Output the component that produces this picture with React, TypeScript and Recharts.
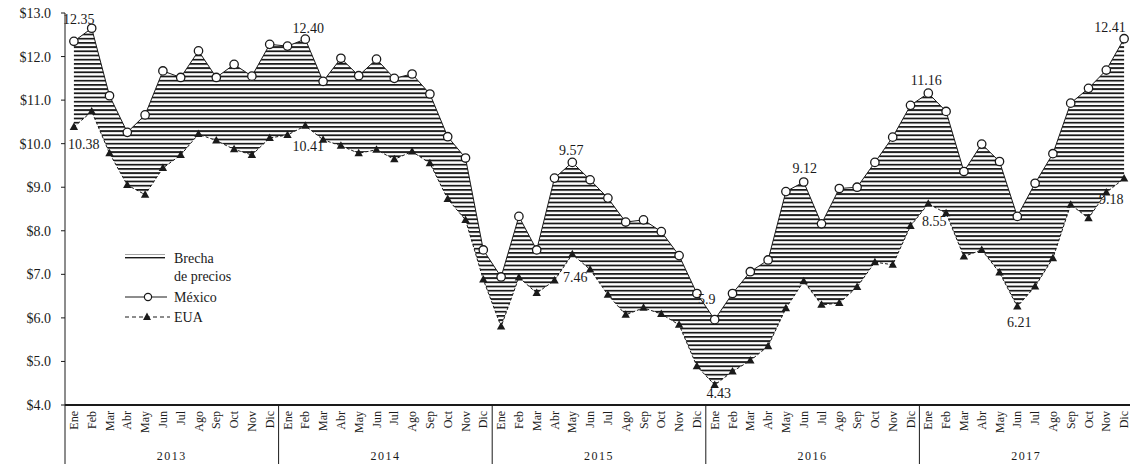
import React from "react";
import { ComposedChart, Area, Line, XAxis, YAxis, LabelList } from "recharts";

const months = ["Ene", "Feb", "Mar", "Abr", "May", "Jun", "Jul", "Ago", "Sep", "Oct", "Nov", "Dic"];
const years = ["2013", "2014", "2015", "2016", "2017"];

// precio mensual, ene 2013 - dic 2017
const mexico = [
  12.35, 12.65, 11.1, 10.26, 10.66, 11.67, 11.52, 12.13, 11.52, 11.82, 11.55, 12.28,
  12.24, 12.4, 11.43, 11.96, 11.56, 11.94, 11.5, 11.6, 11.14, 10.16, 9.67, 7.56,
  6.94, 8.33, 7.56, 9.21, 9.57, 9.17, 8.75, 8.2, 8.25, 7.98, 7.43, 6.56,
  5.96, 6.56, 7.06, 7.33, 8.9, 9.12, 8.16, 8.97, 9.0, 9.57, 10.15, 10.88,
  11.16, 10.74, 9.36, 9.99, 9.59, 8.33, 9.09, 9.77, 10.93, 11.27, 11.69, 12.41,
];
const eua = [
  10.38, 10.74, 9.78, 9.05, 8.83, 9.44, 9.74, 10.22, 10.07, 9.87, 9.74, 10.13,
  10.2, 10.41, 10.09, 9.95, 9.78, 9.86, 9.64, 9.82, 9.55, 8.73, 8.25, 6.88,
  5.8, 6.93, 6.57, 6.86, 7.46, 7.11, 6.53, 6.07, 6.23, 6.09, 5.84, 4.89,
  4.46, 4.77, 5.02, 5.35, 6.22, 6.84, 6.3, 6.34, 6.71, 7.28, 7.22, 8.11,
  8.62, 8.4, 7.41, 7.56, 7.04, 6.26, 6.72, 7.37, 8.6, 8.29, 8.88, 9.2,
];
const yTicks = [4, 5, 6, 7, 8, 9, 10, 11, 12, 13];

const mexicoNotes = [
  { i: 0, text: "12.35" },
  { i: 13, text: "12.40" },
  { i: 28, text: "9.57" },
  { i: 36, text: "5.9" },
  { i: 41, text: "9.12" },
  { i: 48, text: "11.16" },
  { i: 59, text: "12.41" },
];
const euaNotes = [
  { i: 0, text: "10.38" },
  { i: 13, text: "10.41" },
  { i: 28, text: "7.46" },
  { i: 36, text: "4.43" },
  { i: 48, text: "8.55" },
  { i: 53, text: "6.21" },
  { i: 59, text: "9.18" },
];

// where each note sits relative to its point: [dx, dy, anchor]
const mexicoPlace: Record<number, [number, number, string]> = {
  0: [-11, -17, "start"],
  13: [3, -6, "middle"],
  28: [-1, -7, "middle"],
  36: [-8, -16, "middle"],
  41: [1, -9, "middle"],
  48: [-2, -8, "middle"],
  59: [-14, -7, "middle"],
};
const euaPlace: Record<number, [number, number, string]> = {
  0: [-6, 22, "start"],
  13: [3, 25, "middle"],
  28: [3, 28, "middle"],
  36: [4, 13, "middle"],
  48: [6, 22, "middle"],
  53: [2, 20, "middle"],
  59: [-25, 25, "start"],
};

const data = mexico.map((mx, i) => ({
  t: i + 0.5,
  mx,
  us: eua[i],
  gap: [eua[i], mx],
}));

const monthTicks = mexico.map((_, i) => i + 0.5);
const yearTicks = [0, 6, 12, 18, 24, 30, 36, 42, 48, 54, 60];

const serif = "'Liberation Serif', 'DejaVu Serif', serif";
const ink = "#1a1a1a";

function MonthTick(props: any) {
  const { x, y, payload } = props;
  const label = months[Math.floor(payload.value) % 12];
  const ty = y + 6;
  return (
    <text
      x={x}
      y={ty}
      transform={`rotate(-90 ${x} ${ty})`}
      textAnchor="end"
      dominantBaseline="central"
      fontSize={12}
      fontFamily={serif}
      fill={ink}
    >
      {label}
    </text>
  );
}

function YearTick(props: any) {
  const { x, y, payload } = props;
  const v = payload.value;
  if (v % 12 === 0) {
    return <line x1={x} x2={x} y1={y - 42} y2={y + 17} stroke={ink} strokeWidth={1} />;
  }
  return (
    <text x={x} y={y + 13} textAnchor="middle" fontSize={12} fontFamily={serif} fill={ink} letterSpacing={1.5}>
      {years[(v - 6) / 12]}
    </text>
  );
}

function makeNote(notes: { i: number; text: string }[], place: Record<number, [number, number, string]>) {
  return (props: any) => {
    const { index } = props;
    const note = notes.find((n) => n.i === index);
    if (!note) return null;
    const px = props.x ?? props.viewBox?.x;
    const py = props.y ?? props.viewBox?.y;
    const [dx, dy, anchor] = place[index];
    return (
      <text x={px + dx} y={py + dy} textAnchor={anchor} fontSize={14} fontFamily={serif} fill={ink}>
        {note.text}
      </text>
    );
  };
}

function CircleDot(props: any) {
  const { cx, cy, index } = props;
  return <circle key={index} cx={cx} cy={cy} r={4.2} fill="#fff" stroke={ink} strokeWidth={1.3} />;
}

function TriangleDot(props: any) {
  const { cx, cy, index } = props;
  return <path key={index} d={`M${cx},${cy - 4.5} L${cx + 4.2},${cy + 3} L${cx - 4.2},${cy + 3} Z`} fill={ink} />;
}

function Legend() {
  return (
    <svg width={260} height={80} style={{ position: "absolute", left: 115, top: 245 }}>
      <defs>
        <pattern id="hatchLegend" width={6} height={4} patternUnits="userSpaceOnUse">
          <rect x={0} y={0} width={6} height={1.4} fill={ink} />
        </pattern>
      </defs>
      <rect x={10} y={9} width={40} height={6} fill="url(#hatchLegend)" />
      <text x={59} y={18} fontSize={14} fontFamily={serif} fill={ink}>Brecha</text>
      <text x={59} y={36} fontSize={14} fontFamily={serif} fill={ink}>de precios</text>
      <line x1={10} x2={52} y1={52} y2={52} stroke={ink} strokeWidth={1} />
      <circle cx={33} cy={52} r={3.6} fill="#fff" stroke={ink} strokeWidth={1.2} />
      <text x={59} y={57} fontSize={14} fontFamily={serif} fill={ink}>México</text>
      <line x1={10} x2={55} y1={72} y2={72} stroke={ink} strokeWidth={1} strokeDasharray="4 3" />
      <path d="M32,67.5 L36,75 L28,75 Z" fill={ink} />
      <text x={59} y={77} fontSize={14} fontFamily={serif} fill={ink}>EUA</text>
    </svg>
  );
}

export default function App() {
  return (
    <div style={{ position: "relative", width: 1130, height: 464, overflow: "hidden", background: "#fff" }}>
      <style>{"body{margin:0}"}</style>
      <ComposedChart width={1133} height={464} data={data} margin={{ top: 13, right: 0, bottom: 0, left: 0 }}>
        <defs>
          <pattern id="hatch" width={8} height={4.2} patternUnits="userSpaceOnUse">
            <rect x={0} y={0} width={8} height={1.8} fill={ink} />
          </pattern>
        </defs>
        <XAxis
          xAxisId="m"
          dataKey="t"
          type="number"
          domain={[0, 60]}
          ticks={monthTicks}
          interval={0}
          height={42}
          tickSize={0}
          tickMargin={0}
          tick={<MonthTick />}
          axisLine={{ stroke: ink, strokeWidth: 2 }}
        />
        <XAxis
          xAxisId="y"
          dataKey="t"
          type="number"
          domain={[0, 60]}
          ticks={yearTicks}
          interval={0}
          height={17}
          tickSize={0}
          tickMargin={0}
          tickLine={false}
          axisLine={false}
          tick={<YearTick />}
        />
        <YAxis
          domain={[4, 13]}
          ticks={yTicks}
          interval={0}
          width={65}
          tickSize={4}
          tickMargin={10}
          tickFormatter={(v: number) => `$${v.toFixed(1)}`}
          tick={{ fontSize: 14, fontFamily: serif, fill: ink }}
          axisLine={{ stroke: ink, strokeWidth: 1 }}
          tickLine={{ stroke: ink }}
        />
        <Area
          xAxisId="m"
          dataKey="gap"
          type="linear"
          stroke="none"
          fill="url(#hatch)"
          fillOpacity={1}
          isAnimationActive={false}
        />
        <Line
          xAxisId="y"
          dataKey="us"
          stroke="none"
          dot={false}
          activeDot={false}
          legendType="none"
          isAnimationActive={false}
        />
        <Line
          xAxisId="m"
          dataKey="us"
          type="linear"
          stroke={ink}
          strokeWidth={1}
          strokeDasharray="3 2"
          dot={<TriangleDot />}
          activeDot={false}
          isAnimationActive={false}
        >
          <LabelList dataKey="us" content={makeNote(euaNotes, euaPlace)} />
        </Line>
        <Line
          xAxisId="m"
          dataKey="mx"
          type="linear"
          stroke={ink}
          strokeWidth={1}
          dot={<CircleDot />}
          activeDot={false}
          isAnimationActive={false}
        >
          <LabelList dataKey="mx" content={makeNote(mexicoNotes, mexicoPlace)} />
        </Line>
      </ComposedChart>
      <Legend />
    </div>
  );
}
